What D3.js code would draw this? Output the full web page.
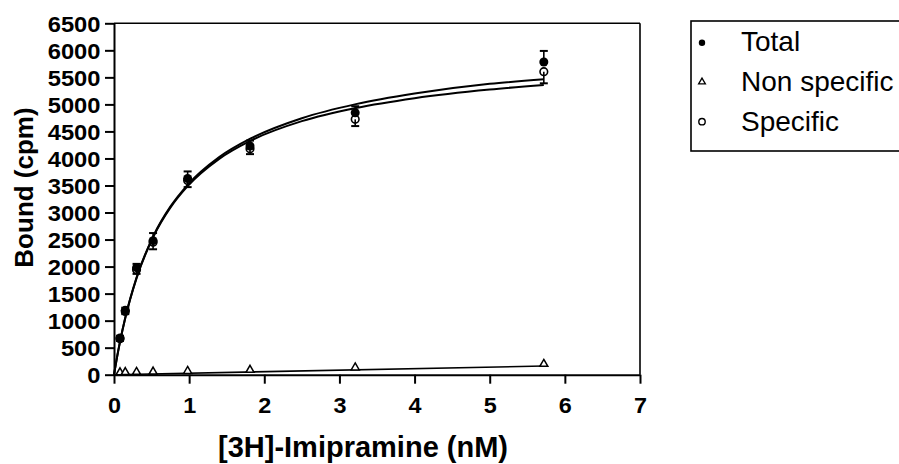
<!DOCTYPE html>
<html>
<head>
<meta charset="utf-8">
<script src="https://cdn.jsdelivr.net/npm/d3@7"></script>
<style>
  html, body { margin: 0; padding: 0; background: #fff; }
  svg { display: block; }
</style>
</head>
<body>
<svg id="chart" width="899" height="464"></svg>
<script>
// ---- data ----
const concentrations = [0.08, 0.15, 0.30, 0.52, 0.98, 1.81, 3.21, 5.72];
const totalValues    = [680, 1190, 1980, 2480, 3630, 4230, 4846, 5784];
const totalErrors    = [40, 50, 70, 140, 130, 100, 120, 205];
const specificValues = [665, 1170, 1940, 2450, 3590, 4180, 4724, 5605];
const specificErrors = [40, 50, 75, 130, 120, 100, 125, 215];
const nonSpecificValues = [5, 8, 12, 18, 30, 50, 95, 160];

// fitted curves
const fitX         = [0, 0.04, 0.08, 0.15, 0.30, 0.53, 0.75, 0.98, 1.4, 1.82, 2.5, 3.22, 4.0, 5.0, 5.72];
const totalFit     = [0, 322, 612, 1053, 1795, 2583, 3108, 3512, 4025, 4370, 4745, 5005, 5200, 5380, 5464];
const specificFit  = [0, 320, 608, 1048, 1785, 2570, 3090, 3489, 3993, 4330, 4690, 4934, 5115, 5275, 5359];
const nonSpecificFitX = [0, 5.72];
const nonSpecificFit  = [0, 160];

const xTicks = [0, 1, 2, 3, 4, 5, 6, 7];
const yTicks = [0, 500, 1000, 1500, 2000, 2500, 3000, 3500, 4000, 4500, 5000, 5500, 6000, 6500];
const legendLabels = ["Total", "Non specific", "Specific"];
const xTitle = "[3H]-Imipramine (nM)";
const yTitle = "Bound (cpm)";

// ---- layout ----
const svg = d3.select("#chart");
const pLeft = 114, pRight = 640, pTop = 23.3, pBottom = 374.7;
const x = d3.scaleLinear().domain([0, 7]).range([pLeft, pRight]);
const y = d3.scaleLinear().domain([0, 6500]).range([pBottom, pTop]);

svg.append("rect").attr("width", 899).attr("height", 464).attr("fill", "#fff");

const baseFont = "'Liberation Sans', Arial, sans-serif";

// frame top/right
svg.append("line").attr("x1", pLeft).attr("x2", pRight).attr("y1", pTop).attr("y2", pTop)
  .attr("stroke", "#000").attr("stroke-width", 1.6);
svg.append("line").attr("x1", pRight).attr("x2", pRight).attr("y1", pTop).attr("y2", pBottom)
  .attr("stroke", "#000").attr("stroke-width", 1.6);

// x axis
const xAxis = svg.append("g").attr("transform", `translate(0,${pBottom})`)
  .call(d3.axisBottom(x).tickValues(xTicks).tickFormat(d3.format("d")).tickSize(9).tickSizeOuter(0));
xAxis.select(".domain").attr("stroke-width", 2);
xAxis.selectAll(".tick line").attr("stroke-width", 2);
xAxis.selectAll(".tick text")
  .attr("y", 38.3).attr("dy", null)
  .attr("font-family", baseFont).attr("font-weight", "bold").attr("font-size", 22.5).attr("fill", "#000")
  .attr("textLength", 13).attr("lengthAdjust", "spacingAndGlyphs");

// y axis
const yAxis = svg.append("g").attr("transform", `translate(${pLeft},0)`)
  .call(d3.axisLeft(y).tickValues(yTicks).tickFormat(d3.format("d")).tickSize(9).tickSizeOuter(0));
yAxis.select(".domain").attr("stroke-width", 2);
yAxis.selectAll(".tick line").attr("stroke-width", 2);
yAxis.selectAll(".tick text")
  .attr("x", -13.5).attr("dy", "0.36em")
  .attr("font-family", baseFont).attr("font-weight", "bold").attr("font-size", 22).attr("fill", "#000")
  .attr("textLength", d => String(d).length * 13.2).attr("lengthAdjust", "spacingAndGlyphs");

// axis titles
svg.append("text").attr("x", 363).attr("y", 457).attr("text-anchor", "middle")
  .attr("font-family", baseFont).attr("font-weight", "bold").attr("font-size", 29).text(xTitle);
svg.append("text").attr("transform", "translate(33,187.5) rotate(-90)").attr("text-anchor", "middle")
  .attr("font-family", baseFont).attr("font-weight", "bold").attr("font-size", 26).text(yTitle);

// fitted curves
const curveLine = (xs, ys) => d3.line()
  .x((d, i) => x(xs[i])).y((d, i) => y(ys[i])).curve(d3.curveMonotoneX)(ys);

svg.append("path").attr("d", curveLine(fitX, totalFit))
  .attr("fill", "none").attr("stroke", "#000").attr("stroke-width", 2);
svg.append("path").attr("d", curveLine(fitX, specificFit))
  .attr("fill", "none").attr("stroke", "#000").attr("stroke-width", 2);
svg.append("path").attr("d", curveLine(nonSpecificFitX, nonSpecificFit))
  .attr("fill", "none").attr("stroke", "#000").attr("stroke-width", 1.6);

// error bars
function errorBars(vals, errs, dir) {
  const g = svg.append("g").attr("stroke", "#000");
  concentrations.forEach((c, i) => {
    const cx = x(c), y0 = y(vals[i]), y1 = y(vals[i] + dir * errs[i]);
    g.append("line").attr("x1", cx).attr("x2", cx).attr("y1", y0).attr("y2", y1).attr("stroke-width", 1.6);
    g.append("line").attr("x1", cx - 4).attr("x2", cx + 4).attr("y1", y1).attr("y2", y1).attr("stroke-width", 2);
  });
}
errorBars(totalValues, totalErrors, 1);
errorBars(specificValues, specificErrors, -1);

// specific: open circles
svg.append("g").selectAll("circle").data(specificValues).join("circle")
  .attr("cx", (d, i) => x(concentrations[i])).attr("cy", d => y(d)).attr("r", 3.8)
  .attr("fill", "none").attr("stroke", "#000").attr("stroke-width", 1.6);

// total: filled circles
svg.append("g").selectAll("circle").data(totalValues).join("circle")
  .attr("cx", (d, i) => x(concentrations[i])).attr("cy", d => y(d)).attr("r", 4.5)
  .attr("fill", "#000");

// non specific: open triangles
const tri = d3.symbol().type(d3.symbolTriangle).size(28);
svg.append("g").selectAll("path").data(nonSpecificValues).join("path")
  .attr("d", tri)
  .attr("transform", (d, i) => `translate(${x(concentrations[i])},${y(d) - 2})`)
  .attr("fill", "#fff").attr("stroke", "#000").attr("stroke-width", 1.5);

// legend
const lg = svg.append("g");
lg.append("rect").attr("x", 691).attr("y", 21).attr("width", 240).attr("height", 130)
  .attr("fill", "#fff").attr("stroke", "#000").attr("stroke-width", 1.6);
const legendY = [50.7, 91, 130.7];
legendLabels.forEach((lab, i) => {
  lg.append("text").attr("x", 741).attr("y", legendY[i])
    .attr("font-family", baseFont).attr("font-size", 28).attr("fill", "#000").text(lab);
});
const symX = 702;
lg.append("circle").attr("cx", symX).attr("cy", legendY[0] - 8).attr("r", 3.2).attr("fill", "#000");
lg.append("path").attr("d", d3.symbol().type(d3.symbolTriangle).size(20))
  .attr("transform", `translate(${symX},${legendY[1] - 9})`)
  .attr("fill", "none").attr("stroke", "#000").attr("stroke-width", 1.3);
lg.append("circle").attr("cx", symX).attr("cy", legendY[2] - 9).attr("r", 3.2)
  .attr("fill", "none").attr("stroke", "#000").attr("stroke-width", 1.4);
</script>
</body>
</html>
